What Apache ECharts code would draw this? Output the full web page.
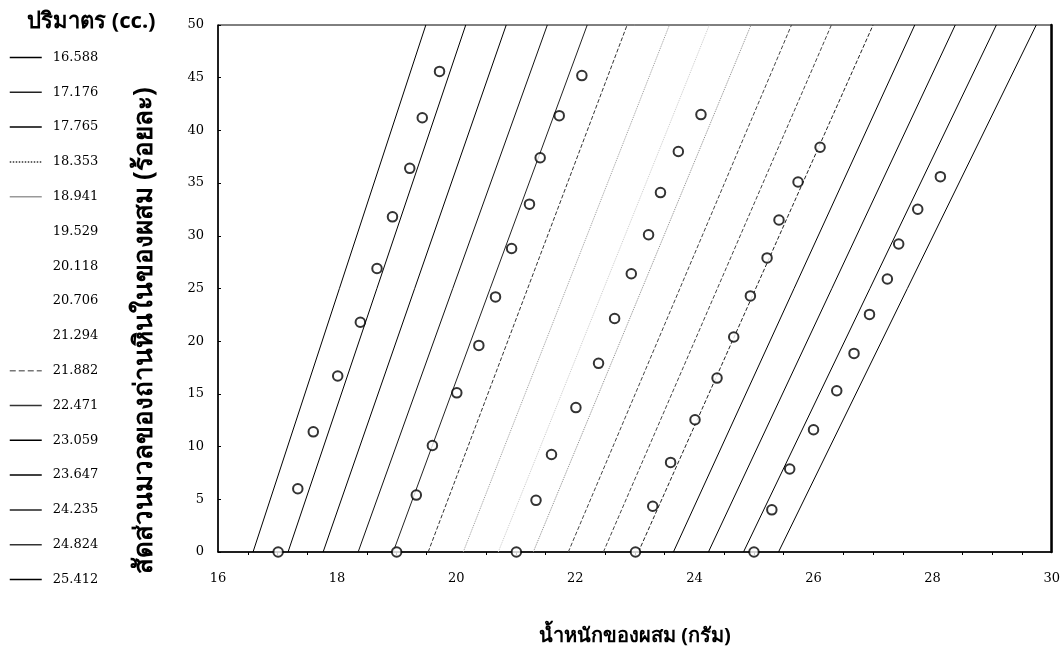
<!DOCTYPE html>
<html>
<head>
<meta charset="utf-8">
<script src="https://cdn.jsdelivr.net/npm/echarts@6/dist/echarts.min.js"></script>
<style>
  html, body { margin: 0; padding: 0; background: #fff; }
  #chart { width: 1063px; height: 655px; }
</style>
</head>
<body>
<div id="chart"></div>
<script>
// volumes (cc.) - each line starts at fraction 0 with weight = volume
const volumes = ['16.588', '17.176', '17.765', '18.353', '18.941', '19.529', '20.118', '20.706',
  '21.294', '21.882', '22.471', '23.059', '23.647', '24.235', '24.824', '25.412'];
const lineBottomX = [16.588, 17.176, 17.765, 18.353, 18.941, 19.529, 20.118, 20.706,
  21.294, 21.882, 22.471, 23.059, 23.647, 24.235, 24.824, 25.412];
// weight where each line meets fraction 50
const lineTopX = [19.49, 20.16, 20.84, 21.53, 22.2, 22.87, 23.58, 24.25,
  24.95, 25.63, 26.3, 27.0, 27.7, 28.38, 29.07, 29.74];

// measured points (weight g, fraction %)
const groupA = [[17.01, 0], [17.34, 6.0], [17.6, 11.4], [18.01, 16.7], [18.39, 21.8], [18.67, 26.9],
  [18.93, 31.8], [19.22, 36.4], [19.43, 41.2], [19.72, 45.6]];
const groupB = [[19.0, 0], [19.33, 5.4], [19.6, 10.1], [20.01, 15.1], [20.38, 19.6], [20.66, 24.2],
  [20.93, 28.8], [21.23, 33.0], [21.41, 37.4], [21.73, 41.4], [22.11, 45.2]];
const groupC = [[21.01, 0], [21.34, 4.9], [21.6, 9.25], [22.01, 13.7], [22.39, 17.9], [22.66, 22.15],
  [22.94, 26.4], [23.23, 30.1], [23.43, 34.1], [23.73, 38.0], [24.11, 41.5]];
const groupD = [[23.01, 0], [23.3, 4.34], [23.6, 8.5], [24.01, 12.55], [24.38, 16.5], [24.66, 20.4],
  [24.94, 24.3], [25.22, 27.9], [25.42, 31.5], [25.74, 35.1], [26.11, 38.4]];
const groupE = [[25.0, 0], [25.3, 4.0], [25.6, 7.87], [26.0, 11.6], [26.39, 15.3], [26.68, 18.84],
  [26.94, 22.54], [27.24, 25.9], [27.43, 29.22], [27.75, 32.52], [28.13, 35.61]];

const xTitle = 'น้ำหนักของผสม (กรัม)';
const yTitle = 'สัดส่วนมวลของถ่านหินในของผสม (ร้อยละ)';
const legendTitle = 'ปริมาตร (cc.)';

// line looks in the plot
const lineColors = ['#000', '#000', '#000', '#111', '#222', '#333', '#999', '#c8c8c8',
  '#888', '#444', '#444', '#222', '#000', '#000', '#000', '#000'];
const lineTypes = ['solid', 'solid', 'solid', 'solid', 'solid', 'dashed', 'dotted', 'dotted',
  'dotted', 'dashed', 'dashed', 'dashed', 'solid', 'solid', 'solid', 'solid'];
// line looks in the legend
const legendColors = ['#000', '#222', '#000', '#333', '#999', 'rgba(0,0,0,0)', 'rgba(0,0,0,0)', 'rgba(0,0,0,0)',
  'rgba(0,0,0,0)', '#777', '#333', '#000', '#000', '#222', '#333', '#000'];
const legendTypes = ['solid', 'solid', 'solid', 'dotted', 'solid', 'solid', 'solid', 'solid',
  'solid', 'dashed', 'solid', 'solid', 'solid', 'solid', 'solid', 'solid'];

const chart = echarts.init(document.getElementById('chart'));
const serif = '"DejaVu Serif", "Liberation Serif", serif';
const thai = '"Noto Sans", "DejaVu Sans", sans-serif';

const lineSeries = volumes.map((v, i) => ({
  name: v,
  type: 'line',
  data: [[lineBottomX[i], 0], [lineTopX[i], 50]],
  symbol: 'none',
  silent: true,
  lineStyle: { color: lineColors[i], width: 1, type: lineTypes[i] },
  itemStyle: { color: lineColors[i] },
  z: 2
}));

const pointSeries = [groupA, groupB, groupC, groupD, groupE].map((g) => ({
  type: 'scatter',
  data: g,
  symbol: 'circle',
  symbolSize: 9.5,
  itemStyle: { color: '#fff', borderColor: '#000', borderWidth: 2 },
  z: 5
}));

const option = {
  backgroundColor: '#fff',
  animation: false,
  title: {
    text: legendTitle,
    left: 22,
    top: 6,
    textStyle: { fontFamily: thai, fontSize: 22, fontWeight: 'bold', color: '#000' }
  },
  legend: {
    data: volumes.map((v, i) => ({
      name: v,
      itemStyle: { opacity: 0, color: 'rgba(0,0,0,0)', borderWidth: 0 },
      lineStyle: { color: legendColors[i], type: legendTypes[i], width: 1.5 }
    })),
    orient: 'vertical',
    left: 4,
    top: 46,
    itemWidth: 32,
    itemHeight: 14,
    itemGap: 21.8,
    selectedMode: false,
    textStyle: { fontFamily: serif, fontSize: 13, color: '#000', padding: [0, 0, 0, 6] }
  },
  grid: {
    left: 218,
    right: 10,
    top: 25,
    bottom: 103,
    show: true,
    borderColor: '#000',
    borderWidth: 1
  },
  xAxis: {
    type: 'value',
    min: 16,
    max: 30,
    interval: 2,
    name: xTitle,
    nameLocation: 'middle',
    nameGap: 74,
    nameTextStyle: { fontFamily: thai, fontSize: 20, fontWeight: 'bold', color: '#000' },
    axisLine: { lineStyle: { color: '#000', width: 1.5 } },
    axisTick: { show: false },
    minorTick: { show: true, splitNumber: 4, length: 3, lineStyle: { color: '#000' } },
    axisLabel: { fontFamily: serif, fontSize: 13, color: '#000', margin: 20 },
    splitLine: { show: false }
  },
  yAxis: [
    {
      type: 'value',
      min: 0,
      max: 50,
      interval: 5,
      name: yTitle,
      nameLocation: 'middle',
      nameRotate: 90,
      nameGap: 60,
      nameTextStyle: {
        fontFamily: thai, fontSize: 26, fontWeight: 'bold', color: '#000',
        padding: [0, 84, 0, 0]
      },
      axisLine: { lineStyle: { color: '#000', width: 1.5 } },
      axisTick: { inside: true, length: 3, lineStyle: { color: '#000' } },
      axisLabel: { fontFamily: serif, fontSize: 13, color: '#000', margin: 14 },
      splitLine: { show: false }
    },
    {
      // heavier right frame edge
      type: 'value',
      position: 'right',
      min: 0,
      max: 50,
      interval: 5,
      axisLine: { show: true, lineStyle: { color: '#000', width: 2.5 } },
      axisTick: { show: false },
      axisLabel: { show: false },
      splitLine: { show: false }
    }
  ],
  series: [...lineSeries, ...pointSeries]
};

chart.setOption(option);
</script>
</body>
</html>
